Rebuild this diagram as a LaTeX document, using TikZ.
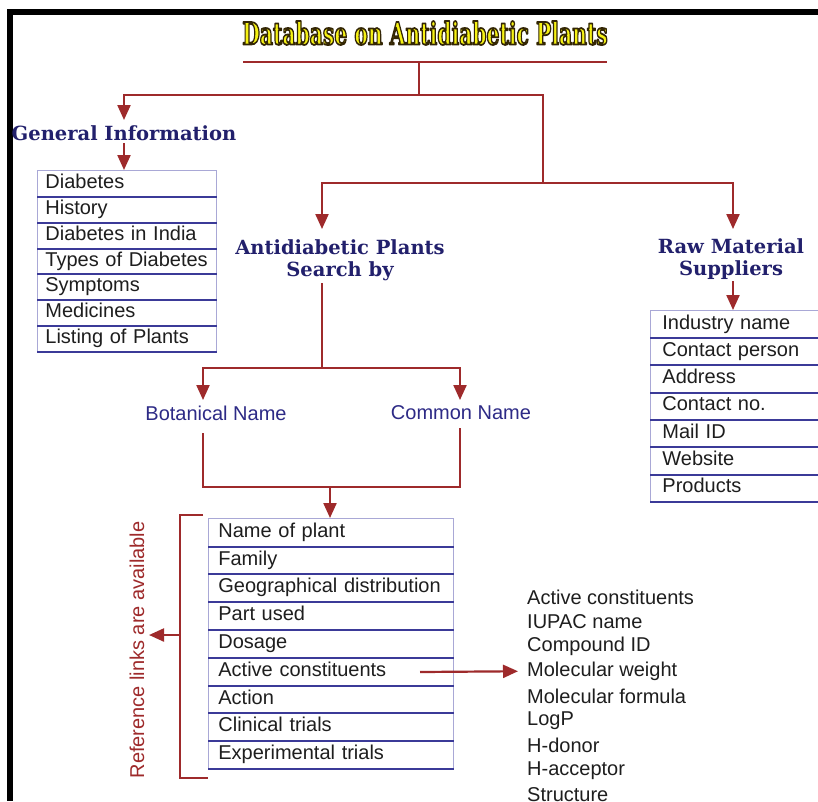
\documentclass[tikz,border=0pt]{standalone}
\usepackage{fontspec}
\setmainfont{Liberation Sans}
\newfontfamily\headfont{DejaVu Serif}
\usetikzlibrary{arrows.meta,calc}
\definecolor{linered}{HTML}{9E2A2B}
\definecolor{navy}{HTML}{22206C}
\definecolor{navylight}{HTML}{2D2A86}
\definecolor{boxedge}{HTML}{A9A8D6}
\definecolor{boxbottom}{HTML}{3B3A98}
\definecolor{titleyellow}{HTML}{F6F214}
\definecolor{txt}{HTML}{1E1E1E}
\newcommand{\outlinedtext}[1]{\special{pdf:literal direct 0.2 0.15 0.02 RG 2 Tr 1.8 w 1 j}#1\special{pdf:literal direct 0 Tr}}
\begin{document}
\begin{tikzpicture}[x=1pt,y=-1pt,
  conn/.style={draw=linered,line width=2.2pt},
  arr/.style={conn,-{Triangle[length=15pt,width=13pt]}},
  head/.style={font=\headfont\bfseries\fontsize{19.5}{22}\selectfont,text=navy,align=center,inner sep=0pt},
  subhead/.style={font=\fontsize{20}{24}\selectfont,text=navylight,inner sep=0pt},
  rowbox/.style={draw=boxedge,line width=0.8pt,fill=white,anchor=north west,align=left,
    text=txt,font=\fontsize{20}{24}\selectfont,text height=14.5pt,text depth=4.5pt,inner ysep=0pt},
  bottomline/.style={draw=boxbottom,line width=2pt},
  plain/.style={anchor=west,text=txt,font=\fontsize{20}{24}\selectfont,inner sep=0pt},
  titlefont/.style={font=\headfont\bfseries\fontsize{31}{33}\selectfont,inner sep=0pt}
]
\useasboundingbox (0,0) rectangle (818,801);
\fill[white] (0,0) rectangle (818,801);
\clip (0,0) rectangle (818,801);
% black frame
\fill[black] (7,9) rectangle (818,15);
\fill[black] (7,9) rectangle (13,801);

% title with outline
\node[titlefont,text=titleyellow] (title) at (425,33) {\scalebox{0.655}[1]{\outlinedtext{Database on Antidiabetic Plants}}};

% title rule and tree
\coordinate (tl) at (243,62);
\coordinate (tr) at (607,62);
\coordinate (j0) at (419,62);
\coordinate (j1) at (419,95);
\coordinate (j2) at (543,183);
\draw[conn] (tl) -- (tr);
\draw[conn] (j0) -- (j1);
\draw[conn] (j1) -| (j2);

% headings
\node[head] (gen) at (124,133) {General Information};
\node[head] (plants) at (340,260) {Antidiabetic Plants\\Search by};
\node[head] (raw) at (731,259) {Raw Material\\Suppliers};

\coordinate (genTip) at (124,120);
\coordinate (plTip) at (322,229);
\coordinate (rawTip) at (733,229);
\draw[arr] (j1) -| (genTip);
\draw[arr] (j2) -| (plTip);
\draw[arr] (j2) -| (rawTip);

% general info list
\foreach \t [count=\i] in {Diabetes,History,Diabetes in India,Types of Diabetes,Symptoms,Medicines,Listing of Plants}{
  \node[rowbox,minimum height=25.9pt,text width=163pt,inner xsep=8pt] (g\i) at (37,{170+25.9*(\i-1)}) {\t};
}
\foreach \i in {1,...,7}{\draw[bottomline] (g\i.south west) -- (g\i.south east);}
\draw[arr] (124,143) -- (g1.north -| 124,0);

% suppliers list
\foreach \t [count=\i] in {Industry name,Contact person,Address,Contact no.,Mail ID,Website,Products}{
  \node[rowbox,minimum height=27.3pt,text width=166pt,inner xsep=12pt] (s\i) at (650,{310+27.3*(\i-1)}) {\t};
}
\foreach \i in {1,...,7}{\draw[bottomline] (s\i.south west) -- (s\i.south east);}
\draw[arr] (733,281) -- (s1.north -| 733,0);

% search by
\coordinate (j3) at (322,368);
\draw[conn] (322,283) -- (j3);
\node[subhead] (bot) at (216,413) {Botanical Name};
\node[subhead] (com) at (461,413) {Common Name};
\draw[arr] (j3) -| (203,400);
\draw[arr] (j3) -| (460,400);
\coordinate (j4) at (203,487);
\coordinate (j5) at (460,487);
\draw[conn] (203,433) -- (j4) -- (j5) -- (460,428);
\draw[arr] (330,487) -- (330,518);

% plant list
\foreach \t [count=\i] in {Name of plant,Family,Geographical distribution,Part used,Dosage,Active constituents,Action,Clinical trials,Experimental trials}{
  \node[rowbox,minimum height=27.8pt,text width=225pt,inner xsep=10pt] (p\i) at (208,{518+27.8*(\i-1)}) {\t};
}
\foreach \i in {1,...,9}{\draw[bottomline] (p\i.south west) -- (p\i.south east);}

% bracket
\coordinate (b1) at (203,515);
\coordinate (b2) at (180,515);
\coordinate (b3) at (180,778);
\coordinate (b4) at (208,778);
\coordinate (bm) at (180,635);
\draw[conn] (b1) -- (b2) -- (b3) -- (b4);
\draw[arr] (bm) -- (149,635);
\node[rotate=90,text=linered,font=\fontsize{20}{24}\selectfont,inner sep=0pt] (ref) at (137,650) {Reference links are available};

% active constituents details
\foreach \t [count=\i] in {Active constituents,IUPAC name,Compound ID,Molecular weight,Molecular formula,LogP,H-donor,H-acceptor,Structure}{
  \node[plain] (a\i) at (527,{597+24.75*(\i-1)}) {\t};
}
\draw[arr] (420,672) -- ([xshift=-9pt]a4.west);
\end{tikzpicture}
\end{document}
